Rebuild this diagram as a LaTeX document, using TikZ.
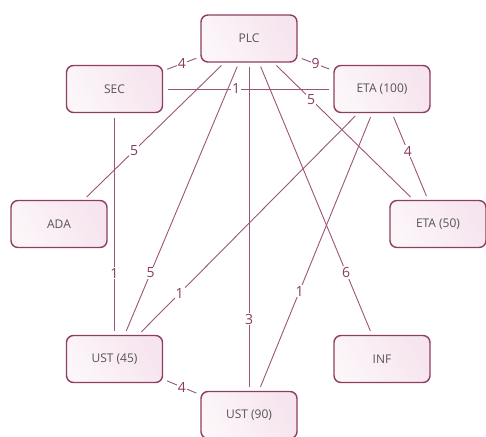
\documentclass[tikz,border=0pt]{standalone}
\usepackage{fontspec}
\setmainfont{Open Sans}
\definecolor{boxborder}{HTML}{8E3E63}
\definecolor{edgecol}{HTML}{9B5478}
\definecolor{labcol}{HTML}{8A3A60}
\definecolor{pinkA}{HTML}{F6E4EE}
\definecolor{pinkB}{HTML}{FCF6F9}
\definecolor{txtgrey}{HTML}{555555}
\begin{document}
\begin{tikzpicture}[x=1pt,y=-1pt,
  boxnode/.style={draw=boxborder, line width=1.4pt, rounded corners=7pt,
    minimum width=96pt, minimum height=47pt, outer sep=0pt,
    left color=pinkA, right color=pinkB, shading angle=-60,
    text=txtgrey, font=\fontsize{12}{14}\selectfont},
  edge/.style={draw=edgecol, line width=0.9pt, shorten <=5pt, shorten >=5pt},
  lab/.style={fill=white, inner sep=1pt, text=labcol, font=\fontsize{14}{16}\selectfont}]
\useasboundingbox (0,0) rectangle (486,436);
\node[boxnode] (PLC) at (249,38.5) {PLC};
\node[boxnode] (SEC) at (114.5,89) {SEC};
\node[boxnode] (ETAa) at (382,89) {ETA (100)};
\node[boxnode] (ADA) at (59,224) {ADA};
\node[boxnode] (ETAb) at (438,224) {ETA (50)};
\node[boxnode] (USTa) at (114.5,359) {UST (45)};
\node[boxnode] (INF) at (382,359) {INF};
\node[boxnode] (USTb) at (249,415) {UST (90)};
\foreach \a/\b/\p/\w in {SEC/PLC/0.5/4, PLC/ETAa/0.5/9, SEC/ETAa/0.43/1,
  PLC/ETAb/0.27/5, PLC/ADA/0.64/5, PLC/USTa/0.77/5, PLC/USTb/0.78/3,
  PLC/INF/0.77/6, SEC/USTa/0.72/1, ETAa/USTa/0.81/1, ETAa/USTb/0.64/1,
  ETAa/ETAb/0.44/4, USTa/USTb/0.5/4}
  \draw[edge] (\a) -- (\b);
\foreach \a/\b/\p/\w in {SEC/PLC/0.5/4, PLC/ETAa/0.5/9, SEC/ETAa/0.43/1,
  PLC/ETAb/0.27/5, PLC/ADA/0.64/5, PLC/USTa/0.77/5, PLC/USTb/0.78/3,
  PLC/INF/0.77/6, SEC/USTa/0.72/1, ETAa/USTa/0.81/1, ETAa/USTb/0.64/1,
  ETAa/ETAb/0.44/4, USTa/USTb/0.5/4}
  \path (\a) -- node[lab, pos=\p] (L\a\b) {\w} (\b);
\end{tikzpicture}
\end{document}
